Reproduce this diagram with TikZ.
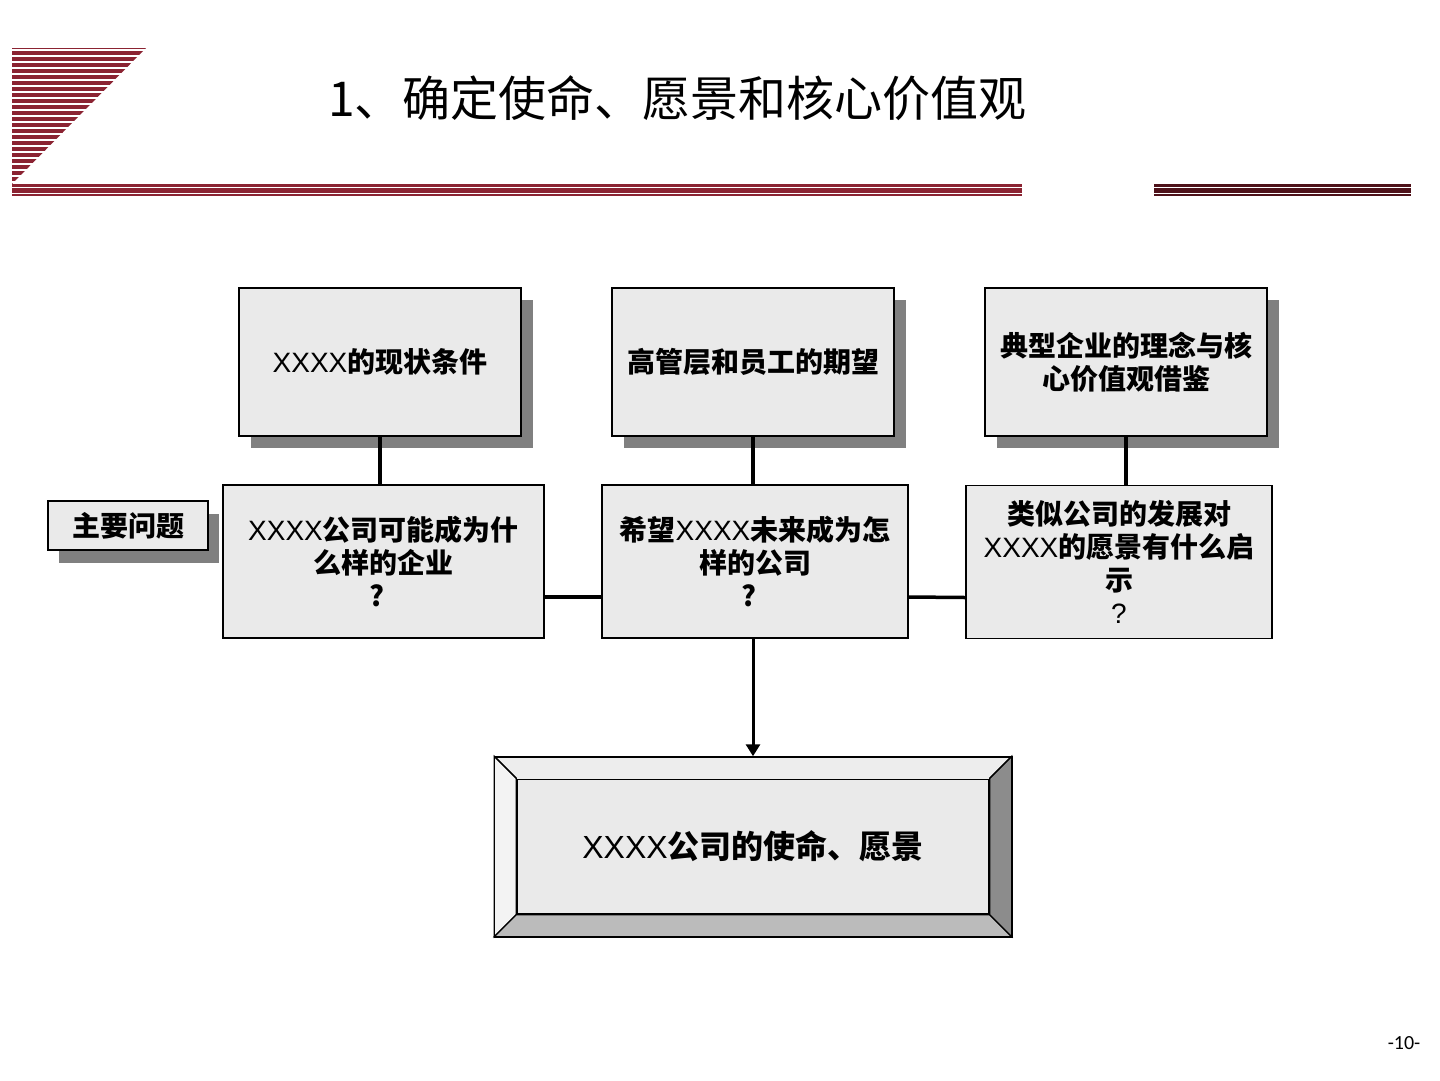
\documentclass[tikz,border=0pt]{standalone}
\usepackage{fontspec}
\setmainfont{Liberation Sans}
\newfontfamily\cjk{Noto Sans CJK SC}
\newfontfamily\pgnum{Carlito}
\usetikzlibrary{arrows.meta,calc,shadows}
\definecolor{boxfill}{RGB}{234,234,234}
\definecolor{shadowgray}{RGB}{128,128,128}
\definecolor{logored}{RGB}{139,35,50}
\definecolor{darkred}{RGB}{78,18,26}
\definecolor{bevtop}{RGB}{237,237,237}
\definecolor{bevleft}{RGB}{243,243,243}
\definecolor{bevbot}{RGB}{187,187,187}
\definecolor{bevright}{RGB}{140,140,140}
\newcommand\xxxx{{\rmfamily\mdseries XXXX}}
\begin{document}
\begin{tikzpicture}[x=1pt,y=-1pt,
  box/.style={draw=black, line width=1.5pt, fill=boxfill, align=center, inner sep=0pt,
    font=\fontsize{28}{33}\selectfont\cjk\bfseries},
  shadowbox/.style={box, drop shadow={shadow xshift=12pt, shadow yshift=-12pt, fill=shadowgray, opacity=1}},
  link/.style={line width=3.5pt},
  bevel/.style={draw=black, line width=1.2pt},
]
\useasboundingbox (0,0) rectangle (1440,1080);

% logo
\fill[logored] (12,48) -- (146,48) -- (12,184) -- cycle;
\foreach \yy in {50,56,...,182} \draw[white, line width=1.3pt] (10,\yy) -- (150,\yy);
\fill[logored] (12,184) rectangle (1022,187);
\fill[logored] (12,188.3) rectangle (1022,192.8);
\fill[logored] (12,194.2) rectangle (1022,195.5);
\fill[darkred] (1154,184) rectangle (1411,187);
\fill[darkred] (1154,188.3) rectangle (1411,192.8);
\fill[darkred] (1154,194.2) rectangle (1411,195.5);

% title
\node[font=\fontsize{48}{58}\selectfont\cjk] (title) at (677.5,98) {1、确定使命、愿景和核心价值观};

% top boxes
\node[shadowbox, minimum width=282pt, minimum height=148pt] (b1) at (380,362) {\xxxx 的现状条件};
\node[shadowbox, minimum width=282pt, minimum height=148pt] (b2) at (753,362) {高管层和员工的期望};
\node[shadowbox, minimum width=282pt, minimum height=148pt] (b3) at (1126,362) {典型企业的理念与核\\心价值观借鉴};

% middle boxes
\node[box, minimum width=321pt, minimum height=153pt] (b4) at (383.5,561.5) {\xxxx 公司可能成为什\\么样的企业\\?\hspace*{12pt}};
\node[box, minimum width=306pt, minimum height=153pt] (b5) at (755,561.5) {希望\xxxx 未来成为怎\\样的公司\\?\hspace*{12pt}};
\node[box, minimum width=306pt, minimum height=153pt] (b6) at (1119,562) {类似公司的发展对\\\xxxx 的愿景有什么启\\示\\{\rmfamily\mdseries ?}};

% label box
\node[box, minimum width=160pt, minimum height=49pt,
  drop shadow={shadow xshift=11pt, shadow yshift=-13pt, fill=shadowgray, opacity=1}] (lab) at (128,525.5) {主要问题};

% connectors
\draw[link] (b1.south) -- (b1.south |- b4.north);
\draw[link] (b2.south) -- (b2.south |- b5.north);
\draw[link] (b3.south) -- (b3.south |- b6.north);
\draw[link] ($(b4.east)+(0,35.5)$) -- ($(b5.west)+(0,35.5)$);
\draw[link] ($(b5.east)+(0,35.5)$) -- ($(b6.west)+(0,35.5)$);

% final bevel box
\node[draw=black, line width=1.5pt, fill=bevtop, minimum width=516pt, minimum height=179pt, inner sep=0pt] (final) at (753,846.5) {};
\filldraw[bevel, fill=bevleft] (final.north west) -- (final.south west) -- ($(final.south west)+(22,-22)$) -- ($(final.north west)+(22,22)$) -- cycle;
\filldraw[bevel, fill=bevbot] (final.south west) -- (final.south east) -- ($(final.south east)+(-22,-22)$) -- ($(final.south west)+(22,-22)$) -- cycle;
\filldraw[bevel, fill=bevright] (final.south east) -- (final.north east) -- ($(final.north east)+(-22,22)$) -- ($(final.south east)+(-22,-22)$) -- cycle;
\draw[bevel] (final.north west) -- ($(final.north west)+(22,22)$);
\draw[bevel] (final.north east) -- ($(final.north east)+(-22,22)$);
\draw[draw=black, line width=1.5pt] (final.north west) rectangle (final.south east);
\node[draw=black, line width=1.5pt, fill=boxfill, minimum width=472pt, minimum height=134pt, inner sep=0pt,
  font=\fontsize{32}{38}\selectfont\cjk\bfseries] (finalin) at (final.center) {\xxxx 公司的使命、愿景};

\draw[line width=3pt, -{Triangle[width=14pt,length=12pt]}] (final.north |- b5.south) -- (final.north);

% page number
\node[font=\fontsize{20}{24}\selectfont\pgnum] (pg) at (1404,1043) {-10-};
\end{tikzpicture}
\end{document}
